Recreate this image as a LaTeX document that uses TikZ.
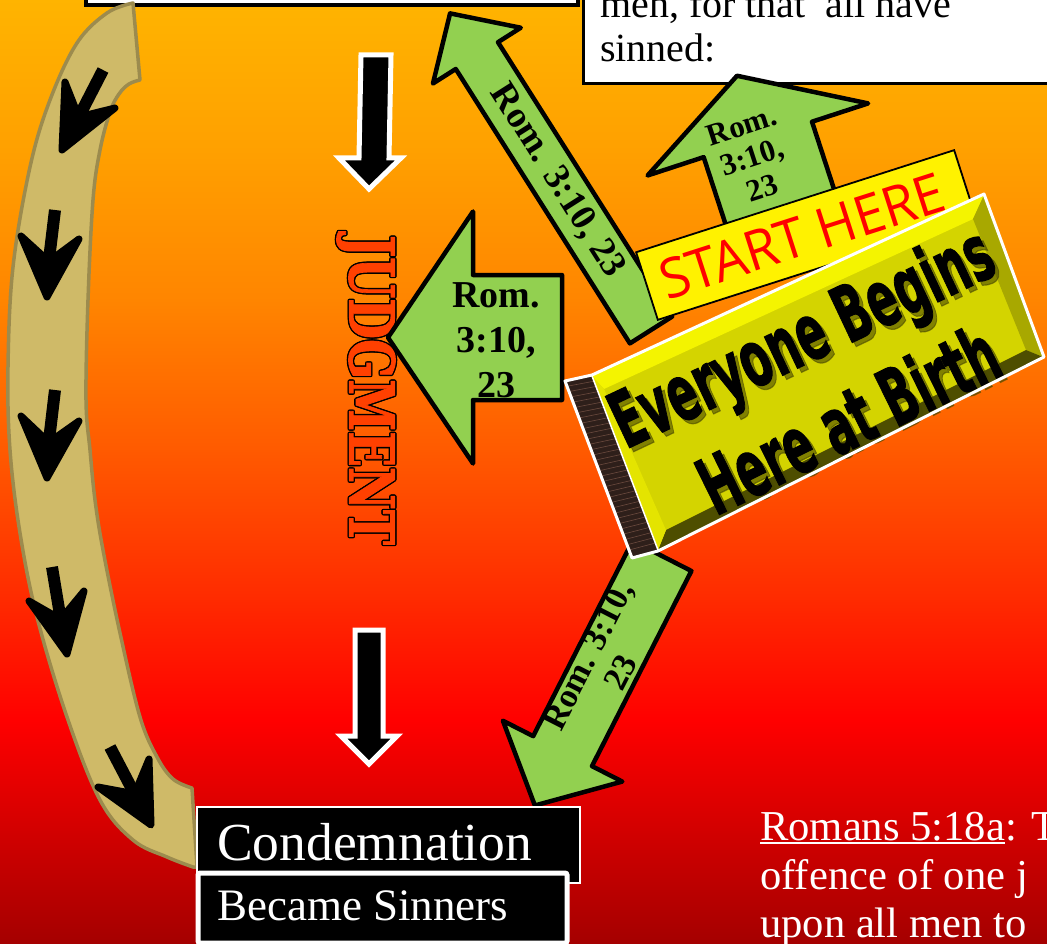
\documentclass[tikz,border=0pt]{standalone}
\usepackage{graphicx}
\usepackage{fontspec}
\setmainfont{Liberation Serif}
\newfontfamily\startfont{Open Sans}
\newfontfamily\bookfont{DejaVu Sans}[BoldFeatures={FakeBold=1.6}]
\newfontfamily\judgfont{DejaVu Serif}[BoldFeatures={FakeBold=1.5}]
\usetikzlibrary{calc}
\definecolor{bgA}{HTML}{FFB400}
\definecolor{bgB}{HTML}{FFA000}
\definecolor{bgC}{HTML}{FF8500}
\definecolor{bgD}{HTML}{FF5A00}
\definecolor{bgE}{HTML}{FF2A00}
\definecolor{bgF}{HTML}{FF0000}
\definecolor{bgG}{HTML}{A40000}
\definecolor{agreen}{HTML}{92D050}
\definecolor{tanfill}{HTML}{CFBA68}
\definecolor{tanedge}{HTML}{9C8B4E}
\definecolor{judgred}{HTML}{FF4000}
\definecolor{bookface}{HTML}{D4D400}
\definecolor{booktop}{HTML}{F4F400}
\definecolor{bookright}{HTML}{A8A800}
\definecolor{bookbottom}{HTML}{4E4E00}
\definecolor{bookleft}{HTML}{E4E400}
\definecolor{spinecol}{HTML}{2E1F1A}
\definecolor{spineline}{HTML}{6A4A3E}
\definecolor{bookshadow}{HTML}{4A4A00}
\newcommand\garrow[7]{%
  \begin{scope}[shift={(#1,#2)}, rotate=#3]
    \draw[garrowbody] (0,#5) -- (#4-#7,#5) -- (#4-#7,#6) -- (#4,0) -- (#4-#7,-#6) -- (#4-#7,-#5) -- (0,-#5) -- cycle;
  \end{scope}}
\newcommand\bandarrow[4]{%
  \coordinate (bm) at ($#2!0.5!#4$);
  \coordinate (bi) at ($#3!0.6!(bm)$);
  \draw[bandshaft] #1 -- (bi);
  \filldraw[bandhead] #2 -- #3 -- #4 -- (bi) -- cycle;}
\newcommand\myuline[1]{\setbox0\hbox{#1}\rlap{\rule[-3.5pt]{\wd0}{1.8pt}}\box0}
\newcommand\judgword{\resizebox{310pt}{46pt}{\judgfont\bfseries JUDGMENT}}
\begin{document}
\begin{tikzpicture}[x=1pt,y=-1pt,
  garrowbody/.style={draw=black, line width=4.5pt, fill=agreen, line join=round},
  glabel/.style={font=\bfseries\fontsize{38}{45}\selectfont, align=center, inner sep=0pt, text=black},
  bandshaft/.style={line width=12pt, black},
  bandhead/.style={line width=7pt, black, line join=round},
  tanband/.style={draw=tanedge, fill=tanfill, line width=3.5pt, line join=round},
  downarrow/.style={draw=white, fill=black, line width=5pt, line join=miter},
  topbox/.style={draw=black, fill=white, line width=4pt, inner sep=0pt},
  toptext/.style={font=\fontsize{40}{45}\selectfont, inner sep=0pt, text=black},
  blackbox/.style={draw=white, fill=black, inner sep=0pt},
  whitetext/.style={inner sep=0pt, text=white},
  judg/.style={rotate=-90, inner sep=0pt},
  booktext/.style={inner sep=0pt, font=\bookfont\bfseries}
]
\useasboundingbox (0,0) rectangle (1047,944);
\clip (0,0) rectangle (1047,944);
% background
\shade[top color=bgA, bottom color=bgB] (-1,-1) rectangle (1048,151);
\shade[top color=bgB, bottom color=bgC] (-1,150) rectangle (1048,301);
\shade[top color=bgC, bottom color=bgD] (-1,300) rectangle (1048,451);
\shade[top color=bgD, bottom color=bgE] (-1,450) rectangle (1048,601);
\shade[top color=bgE, bottom color=bgF] (-1,600) rectangle (1048,721);
\shade[top color=bgF, bottom color=bgG] (-1,720) rectangle (1048,945);
% top boxes
\node[topbox, minimum width=492pt, minimum height=40pt, anchor=south west] (topleft) at (84,7) {};
\node[topbox, line width=3pt, minimum width=480pt, minimum height=120pt, anchor=south west] (topright) at (581.5,85) {};
\node[toptext, anchor=base west] (verse1) at (600,18) {men, for that\ \ all have};
\node[toptext, anchor=base west] (verse2) at (600,62) {sinned:};
% tan curved band
\draw[tanband] (133,3) -- plot[smooth, tension=0.6] coordinates {(140,80) (129,84) (119,94) (110,112) (100,150) (93,200) (88,300) (86,400) (90,450) (95,500) (103,550) (120,633) (140,717) (157,757) (173,779) (192,788)} -- (197,867) -- plot[smooth, tension=0.6] coordinates {(193,867) (167,857) (133,840) (100,800) (67,717) (37,617) (20,533) (10,450) (8,367) (13,267) (30,167) (50,100) (77,43) (107,13) (133,3)} -- cycle;
\bandarrow{(103,70)}{(65,82)}{(62,150)}{(115,108)}
\bandarrow{(55,210)}{(21,236)}{(47,297)}{(79,239)}
\bandarrow{(55,390)}{(21,416)}{(47,478)}{(79,421)}
\bandarrow{(52,567)}{(29,601)}{(67,654)}{(84,591)}
\bandarrow{(110,747)}{(98,787)}{(151,825)}{(149,759)}
% black down arrows
\draw[downarrow] (361,55) -- (391,55) -- (389,158) -- (401,158) -- (369,189) -- (339,158) -- (359,158) -- cycle;
\draw[downarrow] (355,630) -- (383,630) -- (383,736) -- (397,736) -- (369,764) -- (341,736) -- (355,736) -- cycle;
% JUDGMENT
\foreach \dx/\dy [count=\k] in {1.4/0,-1.4/0,0/1.4,0/-1.4,1/1,-1/1,1/-1,-1/-1}
  \node[judg, text=black] (judgo\k) at ($(366,390)+(\dx,\dy)$) {\judgword};
\node[judg, text=judgred] (judgment) at (366,390) {\judgword};
% green arrows
\garrow{562}{337.5}{180}{174}{62.5}{126}{85}
\node[glabel] (labC) at (496,340) {Rom.\\3:10,\\23};
\garrow{651}{330}{122.4}{375}{25}{52}{50}
\node[glabel, font=\bfseries\fontsize{37}{40}\selectfont, rotate=-57.6] (labA) at (557,181) {Rom. 3:10, 23};
\garrow{792}{244}{108.1}{177}{57}{116}{67}
\node[glabel, font=\bfseries\fontsize{31}{33}\selectfont, rotate=18] (labB) at (752,157) {Rom.\\3:10,\\23};
\garrow{662}{556}{-117}{280}{33}{67}{61}
\node[glabel, font=\bfseries\fontsize{34}{37}\selectfont, rotate=63] (labD) at (604,664) {Rom. 3:10,\\23};
% START HERE
\node[draw=black, fill=yellow, line width=1.8pt, minimum width=334pt, minimum height=71pt, rotate=17.8, inner sep=0pt] (startbox) at (806,235) {};
\node[rotate=17.8, inner sep=0pt, text=red] (starttext) at (802,236) {\resizebox{296pt}{40pt}{\startfont START HERE}};
% book
\fill[spinecol] (565,381) -- (592,376) -- (658,550) -- (632,557) -- cycle;
\foreach \t in {0.03,0.06,...,0.97}
  \draw[spineline, line width=0.6pt] ($(565,381)!\t!(632,557)$) -- ($(592,376)!\t!(658,550)$);
\fill[bookface] (592,376) -- (984,195) -- (1043,357) -- (658,550) -- cycle;
\fill[booktop] (592,376) -- (984,195) -- (973,219) -- (604,389) -- cycle;
\fill[bookright] (984,195) -- (1043,357) -- (1026,350) -- (973,219) -- cycle;
\fill[bookbottom] (1043,357) -- (658,550) -- (666,530) -- (1026,350) -- cycle;
\fill[bookleft] (658,550) -- (592,376) -- (604,389) -- (666,530) -- cycle;
\node[booktext, rotate=25.3, anchor=base, text=bookshadow, opacity=0.6] (book1s) at (817,365) {\resizebox{414pt}{59pt}{Everyone Begins}};
\node[booktext, rotate=26.2, anchor=base, text=bookshadow, opacity=0.6] (book2s) at (865,449) {\resizebox{324pt}{60pt}{Here at Birth}};
\node[booktext, rotate=25.3, anchor=base, text=black] (book1) at (813,361) {\resizebox{414pt}{59pt}{Everyone Begins}};
\node[booktext, rotate=26.2, anchor=base, text=black] (book2) at (861,445) {\resizebox{324pt}{60pt}{Here at Birth}};
\draw[white, line width=3pt, line join=round] (565,381) -- (592,375) -- (984,194) -- (1044,357) -- (658,551) -- (632,558) -- cycle;
\draw[white, line width=1.5pt] (592,376) -- (658,550);
% bottom boxes
\node[blackbox, line width=2pt, minimum width=383pt, minimum height=76pt, anchor=north west] (condbox) at (196,806) {};
\node[whitetext, font=\fontsize{53.5}{60}\selectfont, anchor=base west] (condtext) at (217,860) {Condemnation};
\node[blackbox, line width=5pt, rounded corners=2pt, minimum width=369pt, minimum height=70pt, anchor=north west] (sinbox) at (195.5,870.5) {};
\node[whitetext, font=\fontsize{45}{50}\selectfont, anchor=base west] (sintext) at (217,920) {Became Sinners};
% Romans 5:18a
\node[whitetext, font=\fontsize{42.6}{48}\selectfont, anchor=base west] (rom1) at (760,840) {\myuline{Romans 5:18a}: T};
\node[whitetext, font=\fontsize{42.6}{48}\selectfont, anchor=base west] (rom2) at (760,889) {offence of one j};
\node[whitetext, font=\fontsize{42.6}{48}\selectfont, anchor=base west] (rom3) at (760,937) {upon all men to};
\end{tikzpicture}
\end{document}
